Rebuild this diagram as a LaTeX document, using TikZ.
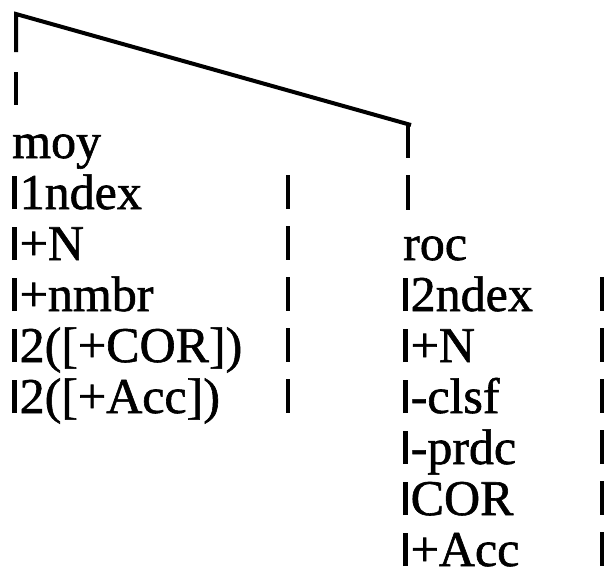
\documentclass[tikz,border=0pt]{standalone}
\usepackage{fontspec}
\setmainfont{Liberation Serif}
\newfontfamily\scanfont{Liberation Serif}[FakeBold=1.2]
\newcommand\pbar{\rule{4.5pt}{33pt}\kern3pt}
\begin{document}
\begin{tikzpicture}[x=1pt,y=-1pt,
  lbl/.style={anchor=base west, inner sep=0pt, font=\scanfont\fontsize{50}{50}\selectfont},
  vbar/.style={line width=4.5pt},
  link/.style={line width=4pt, line join=miter}]
\useasboundingbox (0,0) rectangle (610,576);
% left column
\node[lbl] (moy)  at (12,158.0) {moy};
\node[lbl] (l1)   at (12,209.0) {\pbar 1ndex};
\node[lbl] (l2)   at (12,260.0) {\pbar +N};
\node[lbl] (l3)   at (12,311.0) {\pbar +nmbr};
\node[lbl] (l4)   at (12,362.0) {\pbar 2([+COR])};
\node[lbl] (l5)   at (12,413.0) {\pbar 2([+Acc])};
% right column
\node[lbl] (roc)  at (403,260.0) {roc};
\node[lbl] (r1)   at (403,311.0) {\pbar 2ndex};
\node[lbl] (r2)   at (403,362.0) {\pbar +N};
\node[lbl] (r3)   at (403,413.0) {\pbar -clsf};
\node[lbl] (r4)   at (403,464.0) {\pbar -prdc};
\node[lbl] (r5)   at (403,515.0) {\pbar COR};
\node[lbl] (r6)   at (403,566.0) {\pbar +Acc};
% tree connectors
\coordinate (ltop) at (16,14);
\coordinate (rtop) at (408,124);
\draw[link] (16,52) -- (ltop) -- (411,125);
\draw[vbar] (16,72) -- (16,105);
\draw[vbar] (rtop) -- (408,158);
\draw[vbar] (408,175) -- (408,210);
% column bars
\foreach \b in {209.0,260.0,311.0,362.0,413.0}
  \draw[vbar] (288,\b-34) -- (288,\b);
\foreach \b in {311.0,362.0,413.0,464.0,515.0,566.0}
  \draw[vbar] (602,\b-34) -- (602,\b);
\end{tikzpicture}
\end{document}
